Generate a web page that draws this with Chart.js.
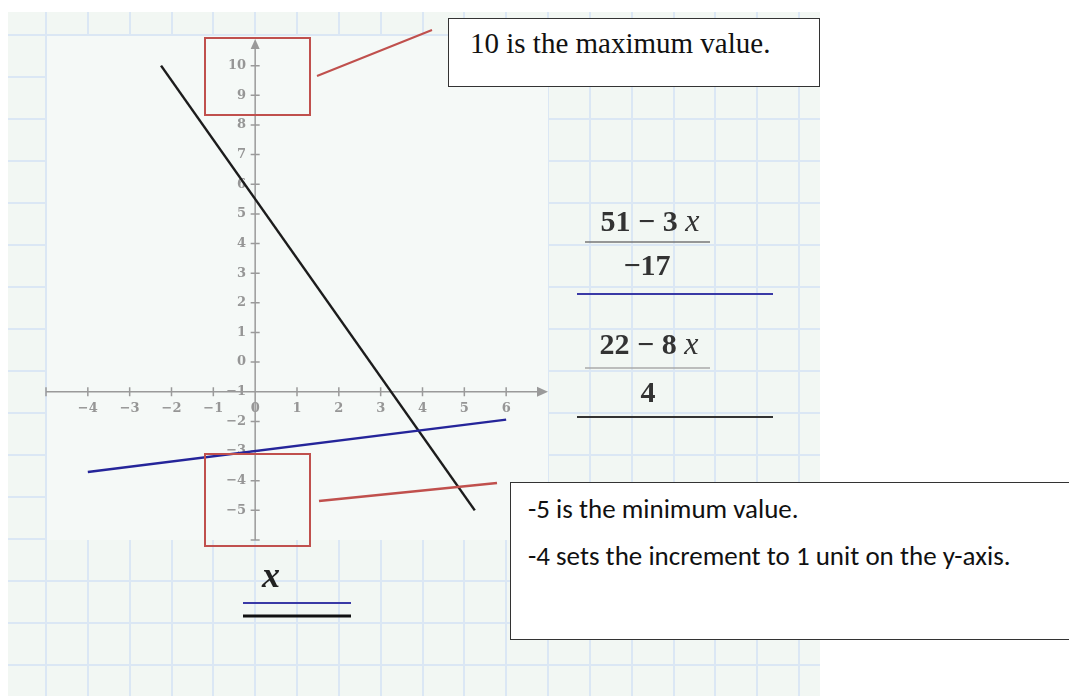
<!DOCTYPE html>
<html>
<head>
<meta charset="utf-8">
<script src="https://cdn.jsdelivr.net/npm/chart.js@4/dist/chart.umd.min.js"></script>
<style>
  html, body { margin: 0; background: #fff; }
  #wrap { position: relative; width: 1069px; height: 696px; overflow: hidden; }
  #cPlot { position: absolute; left: 0; top: 0; }
  #marks { position: absolute; left: 0; top: 0; }
  .note { position: absolute; background: #fff; border: 1.5px solid #333; box-sizing: border-box; color: #111; }
  #noteMax { left: 448px; top: 18px; width: 372px; height: 69px; font: 29px 'Liberation Serif', 'Times New Roman', serif; line-height: 29px; padding: 10px 0 0 21px; }
  #noteMin { left: 510px; top: 482px; width: 600px; height: 158px; font: 27px Carlito, Lato, sans-serif; line-height: 27px; padding: 12px 0 0 17px; }
  #noteMin p { margin: 0 0 20px 0; }
  .math { position: absolute; transform: translateX(-50%); white-space: nowrap; font: bold 30px 'Liberation Serif', serif; line-height: 30px; color: #333; }
  .math i { font-size: 32px; font-weight: normal; }
</style>
</head>
<body>
<div id="wrap">
  <canvas id="cPlot" width="1069" height="696"></canvas>
  <svg id="marks" width="1069" height="696">
    <!-- red callouts -->
    <rect x="205" y="38" width="105" height="77" fill="none" stroke="#c0504d" stroke-width="2"/>
    <line x1="317" y1="76" x2="432" y2="30" stroke="#c0504d" stroke-width="2"/>
    <rect x="205" y="454" width="105" height="92" fill="none" stroke="#c0504d" stroke-width="2"/>
    <line x1="319" y1="501" x2="497" y2="483" stroke="#c0504d" stroke-width="2.5"/>
    <!-- fraction bars and trace keys -->
    <line x1="585" y1="242" x2="710" y2="242" stroke="#777" stroke-width="1.5"/>
    <line x1="577" y1="294" x2="773" y2="294" stroke="#3a3aa6" stroke-width="2"/>
    <line x1="585" y1="368" x2="710" y2="368" stroke="#aaa" stroke-width="1.5"/>
    <line x1="577" y1="417" x2="773" y2="417" stroke="#333" stroke-width="2"/>
    <line x1="243" y1="603" x2="351" y2="603" stroke="#3a3aa6" stroke-width="2"/>
    <line x1="243" y1="616" x2="351" y2="616" stroke="#111" stroke-width="3"/>
  </svg>
  <div class="note" id="noteMax">10 is the maximum value.</div>
  <div class="note" id="noteMin"><p>-5 is the minimum value.</p><p>-4 sets the increment to 1 unit on the y-axis.</p></div>
  <div class="math" style="left:650px;top:205px">51 &minus; 3 <i>x</i></div>
  <div class="math" style="left:647px;top:250px">&minus;17</div>
  <div class="math" style="left:649px;top:328px">22 &minus; 8 <i>x</i></div>
  <div class="math" style="left:648px;top:377px">4</div>
  <div class="math" style="left:271px;top:560px"><i style="font-size:36px;font-weight:bold;color:#222">x</i></div>
</div>
<script>
// x-y trace
const xMin = -5, xMax = 7;
const yMin = -6, yMax = 11;
const xTickLabels = [-4, -3, -2, -1, 0, 1, 2, 3, 4, 5, 6];
const yTickLabels = [10, 9, 8, 7, 6, 5, 4, 3, 2, 1, 0, -1, -2, -3, -4, -5];

// (51 - 3x) / -17  -> blue trace
const blueX = [-4, 6];
const blueY = [-3.71, -1.94];
// (22 - 8x) / 4  -> black trace
const blackX = [-2.25, 5.25];
const blackY = [10, -5];

const AXIS = '#9a9a9a';
const fmt = v => (v < 0 ? '\u2212' + (-v) : String(v));
const pts = (xs, ys) => xs.map((x, i) => ({ x, y: ys[i] }));

// worksheet background: pale sheet with blue grid, plain plot region
const pageGrid = {
  id: 'pageGrid',
  beforeDraw(chart) {
    const { ctx, chartArea: a, scales: { x } } = chart;
    ctx.save();
    ctx.fillStyle = '#fff';
    ctx.fillRect(0, 0, chart.width, chart.height);
    ctx.fillStyle = '#f2f7f3';
    ctx.fillRect(8, 12, 812, 684);
    ctx.strokeStyle = '#dbe7f4';
    ctx.lineWidth = 2;
    for (let v = xMin; x.getPixelForValue(v) < 820; v++) {
      const px = Math.round(x.getPixelForValue(v));
      ctx.beginPath(); ctx.moveTo(px, 12); ctx.lineTo(px, 696); ctx.stroke();
    }
    for (let py = 35; py < 696; py += 42) {
      ctx.beginPath(); ctx.moveTo(8, py); ctx.lineTo(820, py); ctx.stroke();
    }
    ctx.fillStyle = '#f5f9f7';
    ctx.fillRect(a.left + 1, a.top, a.width - 1, a.height);
    ctx.restore();
  }
};

// crossed axes with arrow heads and tick marks through the axis
const crossAxes = {
  id: 'crossAxes',
  beforeDatasetsDraw(chart) {
    const { ctx, scales: { x, y } } = chart;
    const x0 = x.getPixelForValue(0), y0 = y.getPixelForValue(-1);
    ctx.save();
    ctx.strokeStyle = AXIS; ctx.fillStyle = AXIS; ctx.lineWidth = 1.5;
    ctx.beginPath();
    ctx.moveTo(x.left, y0); ctx.lineTo(x.right - 8, y0);
    ctx.moveTo(x0, y.bottom); ctx.lineTo(x0, y.top + 8);
    x.ticks.forEach(t => {
      if (t.value >= xMax) return;
      const px = x.getPixelForValue(t.value);
      ctx.moveTo(px, y0 - 4.5); ctx.lineTo(px, y0 + 4.5);
    });
    y.ticks.forEach(t => {
      if (t.value >= yMax) return;
      const py = y.getPixelForValue(t.value);
      ctx.moveTo(x0 - 4.5, py); ctx.lineTo(x0 + 4.5, py);
    });
    ctx.stroke();
    ctx.beginPath();
    ctx.moveTo(x.right, y0); ctx.lineTo(x.right - 11, y0 - 5); ctx.lineTo(x.right - 11, y0 + 5);
    ctx.closePath(); ctx.fill();
    ctx.beginPath();
    ctx.moveTo(x0, y.top + 3); ctx.lineTo(x0 - 4.5, y.top + 13); ctx.lineTo(x0 + 4.5, y.top + 13);
    ctx.closePath(); ctx.fill();
    ctx.restore();
  }
};

const tickFont = { family: 'DejaVu Serif', size: 13, weight: 'bold' };
const TICK = '#969696';

new Chart(document.getElementById('cPlot'), {
  type: 'scatter',
  data: {
    datasets: [
      {
        label: '(51-3x)/-17', data: pts(blueX, blueY),
        showLine: true, borderColor: '#25259a', borderWidth: 2.5, pointRadius: 0
      },
      {
        label: '(22-8x)/4', data: pts(blackX, blackY),
        showLine: true, borderColor: '#1c1c1c', borderWidth: 2.5, pointRadius: 0
      }
    ]
  },
  options: {
    responsive: false, animation: false,
    layout: { padding: { left: 46, top: 36, right: 521, bottom: 156 } },
    plugins: { legend: { display: false }, tooltip: { enabled: false } },
    scales: {
      x: {
        type: 'linear', min: xMin, max: xMax, position: { y: -1 },
        grid: { display: true, drawOnChartArea: false, drawTicks: true, tickLength: 9, color: 'rgba(0,0,0,0)' },
        border: { display: false },
        ticks: {
          stepSize: 1, autoSkip: false, maxRotation: 0, padding: 0,
          color: TICK, font: tickFont,
          callback: v => (xTickLabels.includes(v) ? fmt(v) : '')
        }
      },
      y: {
        type: 'linear', min: yMin, max: yMax, position: { x: 0 },
        grid: { display: true, drawOnChartArea: false, drawTicks: true, tickLength: 6, color: 'rgba(0,0,0,0)' },
        border: { display: false },
        ticks: {
          stepSize: 1, autoSkip: false,
          color: TICK, font: tickFont,
          // labels sit on the axis line when it is placed by value, so keep a gap after them
          callback: v => (yTickLabels.includes(v) ? fmt(v) + '  ' : '')
        }
      }
    }
  },
  plugins: [pageGrid, crossAxes]
});
</script>
</body>
</html>
